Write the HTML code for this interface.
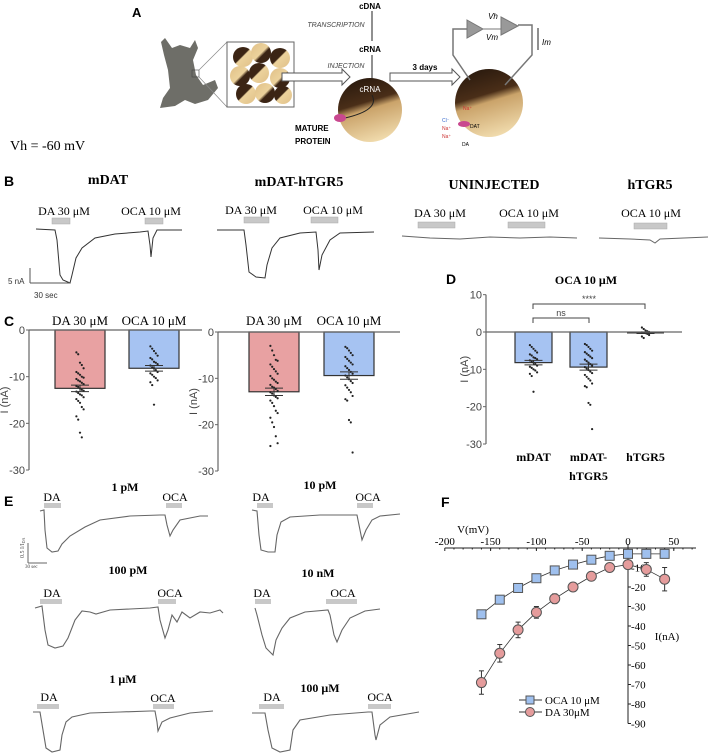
<!DOCTYPE html>
<html><head><meta charset="utf-8"><style>
html,body{margin:0;padding:0;background:#fff;}
svg{display:block;}
.sans{font-family:"Liberation Sans",sans-serif;}
.serif{font-family:"Liberation Serif",serif;}
</style></head><body>
<svg id="fig" width="708" height="756" viewBox="0 0 708 756" xmlns="http://www.w3.org/2000/svg">
<defs>
<linearGradient id="oo2" x1="0.3" y1="0" x2="0.6" y2="1"><stop offset="0" stop-color="#2a1a0e"/><stop offset="0.38" stop-color="#4a2e18"/><stop offset="0.5" stop-color="#caa36a"/><stop offset="1" stop-color="#f1dcae"/></linearGradient>
<linearGradient id="egg" x1="0" y1="0" x2="1" y2="1"><stop offset="0" stop-color="#3b2414"/><stop offset="0.45" stop-color="#3b2414"/><stop offset="0.5" stop-color="#ecd29c"/><stop offset="1" stop-color="#e0c088"/></linearGradient>
<linearGradient id="egg2" x1="1" y1="1" x2="0" y2="0"><stop offset="0" stop-color="#3b2414"/><stop offset="0.4" stop-color="#3b2414"/><stop offset="0.5" stop-color="#ecd29c"/><stop offset="1" stop-color="#e0c088"/></linearGradient>
</defs>
<!-- Panel A -->
<g>
<text x="132" y="17" class="sans" font-weight="bold" font-size="13">A</text>
<path d="M165,38 L172,48 L180,45 L190,48 L195,40 L198,48 L193,60 L196,75 L203,85 L215,80 L218,88 L208,100 L195,104 L185,100 L175,106 L160,108 L163,98 L170,88 L168,70 L164,55 L161,42 Z" fill="#6e6e68"/>
<rect x="192" y="70" width="7" height="7" fill="none" stroke="#444" stroke-width="0.6"/>
<line x1="199" y1="70" x2="227" y2="42" stroke="#888" stroke-width="0.7"/><line x1="199" y1="77" x2="227" y2="107" stroke="#888" stroke-width="0.7"/>
<rect x="227" y="42" width="67" height="65" fill="#fff" stroke="#666"/>
<g>
<circle cx="243" cy="57" r="10" fill="url(#egg)"/><circle cx="261" cy="53" r="10" fill="url(#egg2)"/><circle cx="280" cy="58" r="10" fill="url(#egg)"/><circle cx="240" cy="76" r="10" fill="url(#egg2)"/><circle cx="259" cy="73" r="10" fill="url(#egg)"/><circle cx="280" cy="78" r="10" fill="url(#egg2)"/><circle cx="246" cy="94" r="10" fill="url(#egg)"/><circle cx="265" cy="93" r="10" fill="url(#egg2)"/><circle cx="283" cy="95" r="9" fill="url(#egg)"/>
</g>
<path d="M282,73 L342,73 L342,69 L350,77 L342,85 L342,81 L282,81 Z" fill="#fff" stroke="#555"/>
<text x="370" y="9" text-anchor="middle" class="sans" font-weight="bold" font-size="8">cDNA</text>
<line x1="372" y1="11" x2="372" y2="41" stroke="#222"/>
<text x="336" y="27" text-anchor="middle" class="sans" font-style="italic" font-size="7" fill="#444">TRANSCRIPTION</text>
<text x="370" y="52" text-anchor="middle" class="sans" font-weight="bold" font-size="8">cRNA</text>
<text x="346" y="68" text-anchor="middle" class="sans" font-style="italic" font-size="7" fill="#444">INJECTION</text>
<line x1="372" y1="55" x2="372" y2="88" stroke="#222"/>
<circle cx="370" cy="110" r="32" fill="url(#oo2)"/>
<text x="370" y="92" text-anchor="middle" class="sans" font-size="8" fill="#fff">cRNA</text>
<path d="M372,95 Q380,110 345,118" fill="none" stroke="#222"/>
<ellipse cx="340" cy="118" rx="6" ry="4" fill="#c9488f"/>
<text x="295" y="131" class="sans" font-weight="bold" font-size="8">MATURE</text>
<text x="295" y="144" class="sans" font-weight="bold" font-size="8">PROTEIN</text>
<path d="M390,73 L452,73 L452,69 L460,77 L452,85 L452,81 L390,81 Z" fill="#fff" stroke="#555"/>
<text x="425" y="70" text-anchor="middle" class="sans" font-weight="bold" font-size="8">3 days</text>
<circle cx="489" cy="103" r="34" fill="url(#oo2)"/>
<path d="M467,20 L483,29 L467,38 Z" fill="#999" stroke="#777"/><path d="M501,17 L518,26 L501,35 Z" fill="#999" stroke="#777"/>
<line x1="483" y1="29" x2="501" y2="29" stroke="#777"/>
<polyline points="467,29 453,29 453,55 470,80" fill="none" stroke="#777" stroke-width="1.5"/>
<polyline points="518,25 532,25 532,55 505,85" fill="none" stroke="#777" stroke-width="1.5"/>
<text x="493" y="19" text-anchor="middle" class="sans" font-style="italic" font-size="8">Vh</text>
<text x="492" y="40" text-anchor="middle" class="sans" font-style="italic" font-size="8">Vm</text>
<line x1="538" y1="28" x2="538" y2="50" stroke="#222"/><text x="542" y="45" class="sans" font-style="italic" font-size="8">Im</text>
<text x="442" y="122" class="sans" font-size="5" fill="#36c">Cl⁻</text><text x="442" y="130" class="sans" font-size="5" fill="#c33">Na⁺</text><text x="442" y="138" class="sans" font-size="5" fill="#c33">Na⁺</text><text x="463" y="110" class="sans" font-size="5" fill="#c33">Na⁺</text><text x="470" y="128" class="sans" font-size="5">DAT</text><text x="462" y="146" class="sans" font-size="5">DA</text>
<ellipse cx="464" cy="124" rx="6" ry="3" fill="#c9488f"/>
<text x="10" y="150" class="serif" font-size="14">Vh = -60 mV</text>
</g>
<!-- Panel B -->
<g id="panelB" class="serif">
<text x="4" y="186" class="sans" font-weight="bold" font-size="14">B</text>
<text x="108" y="184" text-anchor="middle" font-weight="bold" font-size="14">mDAT</text>
<text x="299" y="186" text-anchor="middle" font-weight="bold" font-size="14">mDAT-hTGR5</text>
<text x="494" y="189" text-anchor="middle" font-weight="bold" font-size="14">UNINJECTED</text>
<text x="650" y="189" text-anchor="middle" font-weight="bold" font-size="14">hTGR5</text>
<g font-size="12">
<text x="64" y="215" text-anchor="middle">DA 30 μM</text><text x="151" y="215" text-anchor="middle">OCA 10 μM</text>
<text x="251" y="214" text-anchor="middle">DA 30 μM</text><text x="333" y="214" text-anchor="middle">OCA 10 μM</text>
<text x="440" y="217" text-anchor="middle">DA 30 μM</text><text x="529" y="217" text-anchor="middle">OCA 10 μM</text>
<text x="651" y="217" text-anchor="middle">OCA 10 μM</text>
</g>
<g fill="#c8c8c8" stroke="#aaa" stroke-width="0.5">
<rect x="52" y="218" width="18" height="6"/><rect x="145" y="218" width="18" height="6"/>
<rect x="244" y="217" width="25" height="6"/><rect x="311" y="217" width="27" height="6"/>
<rect x="418" y="222" width="37" height="6"/><rect x="508" y="222" width="37" height="6"/>
<rect x="634" y="223" width="33" height="6"/>
</g>
<g fill="none" stroke="#333" stroke-width="1">
<path d="M36,229 L55,230 L57,240 L60,275 L63,280 L70,283 L72,275 L76,258 L82,248 L95,238 L115,234 L140,232 L148,231 L150,245 L151,257 L153,238 L157,230 L182,230"/>
<path d="M217,230 L244,230 L246,245 L249,272 L256,277 L265,278 L267,265 L272,248 L280,238 L300,233 L316,232 L318,250 L319,270 L322,255 L330,240 L340,233 L374,232"/>
<path d="M402,236 L430,238 L460,239 L490,237 L520,238 L550,237 L577,238" stroke="#666"/>
<path d="M599,238 L630,239 L650,240 L655,243 L660,239 L708,237" stroke="#666"/>
</g>
<line x1="30" y1="268" x2="30" y2="283" stroke="#555"/><line x1="30" y1="283" x2="70" y2="283" stroke="#555"/>
<text x="8" y="284" class="sans" font-size="8" fill="#333">5 nA</text>
<text x="34" y="298" class="sans" font-size="8" fill="#333">30 sec</text>
</g>
<g id="panelC">
<text x="4" y="326" class="sans" font-weight="bold" font-size="14">C</text>
</g>
<g id="panelD">
<text x="446" y="284" class="sans" font-weight="bold" font-size="14">D</text>
<text x="586" y="284" text-anchor="middle" class="serif" font-weight="bold" font-size="12">OCA 10 μM</text>
</g>
<!-- Panel E -->
<g class="serif">
<text x="4" y="506" class="sans" font-weight="bold" font-size="14">E</text>
<g font-weight="bold" font-size="12">
<text x="125" y="491" text-anchor="middle">1 pM</text><text x="320" y="489" text-anchor="middle">10 pM</text>
<text x="128" y="574" text-anchor="middle">100 pM</text><text x="318" y="577" text-anchor="middle">10 nM</text>
<text x="123" y="683" text-anchor="middle">1 μM</text><text x="320" y="692" text-anchor="middle">100 μM</text>
</g>
<g font-size="12">
<text x="52" y="501" text-anchor="middle">DA</text><text x="175" y="501" text-anchor="middle">OCA</text>
<text x="261" y="501" text-anchor="middle">DA</text><text x="368" y="501" text-anchor="middle">OCA</text>
<text x="52" y="597" text-anchor="middle">DA</text><text x="170" y="597" text-anchor="middle">OCA</text>
<text x="262" y="597" text-anchor="middle">DA</text><text x="343" y="597" text-anchor="middle">OCA</text>
<text x="49" y="701" text-anchor="middle">DA</text><text x="163" y="702" text-anchor="middle">OCA</text>
<text x="272" y="701" text-anchor="middle">DA</text><text x="380" y="701" text-anchor="middle">OCA</text>
</g>
<g fill="#c8c8c8">
<rect x="44" y="503" width="17" height="5"/><rect x="166" y="503" width="16" height="5"/>
<rect x="257" y="503" width="16" height="5"/><rect x="357" y="503" width="16" height="5"/>
<rect x="40" y="599" width="22" height="5"/><rect x="158" y="599" width="18" height="5"/>
<rect x="255" y="599" width="16" height="5"/><rect x="326" y="599" width="31" height="5"/>
<rect x="37" y="704" width="22" height="5"/><rect x="153" y="704" width="21" height="5"/>
<rect x="259" y="704" width="25" height="5"/><rect x="368" y="704" width="23" height="5"/>
</g>
<g fill="none" stroke="#666" stroke-width="1.1">
<path d="M40,511 L44,510 L45,530 L47,548 L52,552 L58,551 L62,544 L70,536 L85,527 L100,520 L130,516 L160,515 L165,515 L167,525 L170,536 L173,530 L180,520 L200,516 L208,516"/>
<path d="M252,510 L257,511 L259,535 L261,550 L268,552 L275,552 L277,535 L281,522 L290,517 L320,515 L357,515 L359,525 L362,540 L366,530 L372,520 L380,516 L400,514"/>
<path d="M35,608 L42,606 L45,630 L48,645 L55,648 L63,646 L68,638 L75,620 L82,611 L90,612 L96,614 L110,610 L130,609 L150,608 L158,607 L160,620 L165,638 L168,630 L172,615 L177,622 L182,612 L190,618 L200,612 L210,613 L220,610 L223,613"/>
<path d="M255,608 L257,615 L262,635 L266,648 L273,655 L276,640 L282,628 L290,618 L305,612 L328,610 L330,615 L334,635 L337,642 L342,630 L350,618 L365,611 L380,609"/>
<path d="M33,712 L40,712 L43,730 L46,748 L52,752 L60,750 L62,735 L66,722 L72,717 L90,713 L120,712 L150,711 L155,711 L157,722 L158,731 L162,722 L170,718 L190,713 L213,711"/>
<path d="M252,713 L265,713 L268,730 L272,748 L280,752 L290,750 L293,730 L300,720 L330,715 L368,712 L372,712 L375,735 L376,740 L380,725 L390,717 L419,712"/>
</g>
<line x1="28" y1="543" x2="28" y2="563" stroke="#666"/><line x1="28" y1="563" x2="47" y2="563" stroke="#666"/>
<text x="25" y="568" font-size="5" fill="#444">30 sec</text>
<text transform="translate(24,558) rotate(-90)" font-size="6" fill="#444">0.5  I/I<tspan font-size="4" dy="1">DA</tspan></text>
</g>
<g id="panelF" class="serif">
<text x="441" y="507" class="sans" font-weight="bold" font-size="14">F</text>
</g>
<script>
const c1Categories = ["DA 30 μM", "OCA 10 μM"];
const c1Means = [-12.5, -8.2];
const c1Sems = [0.7, 0.6];
const c1DaDots = [-4.8,-5.2,-7,-7.5,-8.2,-9,-9.3,-9.6,-10,-10.2,-10.5,-10.8,-11,-11.3,-11.6,-12,-12.2,-12.5,-12.8,-13,-13.2,-13.5,-13.8,-14,-14.4,-14.8,-15.2,-15.6,-16.5,-17,-18.5,-19.2,-22,-23];
const c1OcaDots = [-3.5,-4,-4.5,-5,-5.5,-6,-6.3,-6.8,-7,-7.3,-7.6,-8,-8.2,-8.6,-9,-9.3,-9.6,-10,-10.3,-10.8,-11.2,-11.8,-16];
const c2Categories = ["DA 30 μM", "OCA 10 μM"];
const c2Means = [-12.9, -9.4];
const c2Sems = [0.8, 0.8];
const c2DaDots = [-3,-4,-5,-6,-6.2,-7,-7.5,-8,-8.5,-9,-9.5,-10,-10.3,-10.7,-11,-11.4,-11.8,-12,-12.3,-12.7,-13,-13.3,-13.7,-14,-14.3,-14.8,-15.3,-16,-17,-17.5,-18.5,-19.5,-20.5,-22.5,-24,-24.6];
const c2OcaDots = [-3.2,-3.5,-4,-4.5,-5,-5.4,-5.8,-6.2,-6.6,-7,-7.4,-7.8,-8.2,-8.6,-9,-9.4,-9.8,-10.2,-10.6,-11,-11.5,-12,-12.5,-13,-13.8,-14.5,-14.8,-19,-19.5,-26];
const dCategories = ["mDAT", "mDAT-\nhTGR5", "hTGR5"];
const dMeans = [-8.2, -9.4, -0.2];
const dSems = [0.6, 0.8, 0.2];
const dDots = [c1OcaDots, c2OcaDots, [1.2,0.8,0.4,0.2,0,-0.1,-0.2,-0.3,-0.5,-0.8,-1.2,-1.6]];
const cTicks = [0, -10, -20, -30];
const dTicks = [10, 0, -10, -20, -30];
const fVoltages = [-160,-140,-120,-100,-80,-60,-40,-20,0,20,40];
const fOca = [-34,-26.5,-20.5,-15.5,-11.5,-8.5,-6,-4,-3,-3,-3];
const fOcaErr = [1.5,2,1.5,1.5,1,1,1,1,1,1,2];
const fDa = [-69,-54,-42,-33,-26,-20,-14.5,-10,-8.5,-11,-16];
const fDaErr = [6,4.5,4,3,2.5,2,1,1,1,3.5,6];
const fXTicks = [-200,-150,-100,-50,0,50];
const fYTicks = [0,-10,-20,-30,-40,-50,-60,-70,-80,-90];

const NS = "http://www.w3.org/2000/svg";
function mk(parent, tag, attrs, text) {
  const e = document.createElementNS(NS, tag);
  for (const k in attrs) e.setAttribute(k, attrs[k]);
  if (text !== undefined) e.textContent = text;
  parent.appendChild(e);
  return e;
}
function barPanel(g, cfg) {
  const y = v => cfg.y0 - v * cfg.ppu;
  const top = y(cfg.ticks[0]), bot = y(cfg.ticks[cfg.ticks.length - 1]);
  const ax = mk(g, "line", {x1: cfg.ax, y1: top, x2: cfg.ax, y2: bot, stroke: "#666", "stroke-width": 1.2});
  
  
  cfg.ticks.forEach(t => {
    mk(g, "line", {x1: cfg.ax - 3, y1: y(t), x2: cfg.ax, y2: y(t), stroke: "#666"});
    const tl = mk(g, "text", {x: cfg.ax - 4, y: y(t) + 4, "text-anchor": "end", "font-size": 11, fill: "#444", "font-family": "Liberation Sans, sans-serif"}, String(t));
    
    
  });
  const yl = mk(g, "text", {transform: `translate(${cfg.ylx},${(top + bot) / 2}) rotate(-90)`, "text-anchor": "middle", "font-size": 11, fill: "#444", "font-family": "Liberation Sans, sans-serif"}, "I (nA)");
  
  
  cfg.means.forEach((m, i) => {
    const x0 = cfg.bx[i], w = cfg.bw;
    if (Math.abs(m) > 0.5) {
      const r = mk(g, "rect", {x: x0, y: y(0), width: w, height: y(m) - y(0), fill: cfg.colors[i], stroke: "#333", "stroke-width": 1.2});
      
      
    } else {
      mk(g, "line", {x1: x0, y1: y(m), x2: x0 + w, y2: y(m), stroke: "#333", "stroke-width": 1.5});
    }
    const cx = x0 + w / 2;
    cfg.dots[i].forEach((v, j) => {
      const d = mk(g, "circle", {cx: cx + ((j % 5) - 2) * 1.8, cy: y(v), r: 1.1, fill: "#222"});
      
      
    });
    const s = cfg.sems[i];
    mk(g, "line", {x1: cx, y1: y(m + s), x2: cx, y2: y(m - s), stroke: "#333"});
    mk(g, "line", {x1: cx - 9, y1: y(m + s), x2: cx + 9, y2: y(m + s), stroke: "#333"});
    mk(g, "line", {x1: cx - 9, y1: y(m - s), x2: cx + 9, y2: y(m - s), stroke: "#333"});
    if (cfg.labels) {
      cfg.labels[i].split("\n").forEach((ln, k) => {
        const t = mk(g, "text", {x: cx, y: cfg.labelY + k * 19, "text-anchor": "middle", "font-size": cfg.labelSize, "font-weight": cfg.labelBold ? "bold" : "normal", "font-family": "Liberation Serif, serif"}, ln);
        
        
      });
    }
  });
  const zl = mk(g, "line", {x1: cfg.ax, y1: y(0), x2: cfg.axEnd, y2: y(0), stroke: "#666", "stroke-width": 1.2});
  
  
  return y;
}
const red = "#e8a1a2", blue = "#a6c3f2";
const gC = document.getElementById("panelC");
barPanel(gC, {name: "c-left", ax: 29, axEnd: 202, y0: 330, ppu: 140 / 30, ticks: cTicks, ylx: 8, bx: [55, 129], bw: 50, means: c1Means, sems: c1Sems, dots: [c1DaDots, c1OcaDots], colors: [red, blue], labels: c1Categories, labelY: 325, labelSize: 13});
barPanel(gC, {name: "c-right", ax: 218, axEnd: 400, y0: 332, ppu: 139 / 30, ticks: cTicks, ylx: 197, bx: [249, 324], bw: 50, means: c2Means, sems: c2Sems, dots: [c2DaDots, c2OcaDots], colors: [red, blue], labels: c2Categories, labelY: 325, labelSize: 13});
const gD = document.getElementById("panelD");
barPanel(gD, {name: "d", ax: 486, axEnd: 682, y0: 332, ppu: 112 / 30, ticks: dTicks, ylx: 468, bx: [515, 570, 627], bw: 37, means: dMeans, sems: dSems, dots: dDots, colors: [blue, blue, blue], labels: dCategories, labelY: 461, labelSize: 12, labelBold: true});
function bracket(x1, x2, yy, label) {
  const p = mk(gD, "path", {d: `M${x1},${yy + 5} L${x1},${yy} L${x2},${yy} L${x2},${yy + 5}`, fill: "none", stroke: "#444"});
  
  
  const t = mk(gD, "text", {x: (x1 + x2) / 2, y: yy - 2, "text-anchor": "middle", "font-size": 9, fill: "#444", "font-family": "Liberation Sans, sans-serif"}, label);
  
  
}
bracket(533, 589, 318, "ns");
bracket(533, 645, 304, "****");

const gF = document.getElementById("panelF");
const fx = v => 628 + v * (229 / 250);
const fy = v => 548 - v * 1.95;
const xax = mk(gF, "line", {x1: fx(-200), y1: fy(0), x2: 696, y2: fy(0), stroke: "#222"});


const yax = mk(gF, "line", {x1: fx(0), y1: fy(0) - 4, x2: fx(0), y2: fy(-90), stroke: "#222"});


fXTicks.forEach(t => {
  mk(gF, "line", {x1: fx(t), y1: fy(0), x2: fx(t), y2: fy(0) + 3, stroke: "#222"});
  const tl = mk(gF, "text", {x: fx(t), y: fy(0) - 3, "text-anchor": "middle", "font-size": 11}, String(t));
  
  
});
for (let v = -190; v <= 70; v += 10) mk(gF, "line", {x1: fx(v), y1: fy(0), x2: fx(v), y2: fy(0) + 1.5, stroke: "#222"});
fYTicks.forEach(t => {
  mk(gF, "line", {x1: fx(0), y1: fy(t), x2: fx(0) + 3, y2: fy(t), stroke: "#222"});
  if (t !== 0) {
    const tl = mk(gF, "text", {x: fx(0) + 3, y: fy(t) + 4, "font-size": 11}, String(t));
    
    
  }
});
const xt = mk(gF, "text", {x: 473, y: 533, "text-anchor": "middle", "font-size": 11}, "V(mV)");


const yt = mk(gF, "text", {x: 667, y: 640, "text-anchor": "middle", "font-size": 11}, "I(nA)");


function series(vals, errs, kind, color, name) {
  const pts = fVoltages.map((v, i) => `${fx(v)},${fy(vals[i])}`).join(" ");
  const pl = mk(gF, "polyline", {points: pts, fill: "none", stroke: "#333", "stroke-width": 0.8});
  
  
  fVoltages.forEach((v, i) => {
    const x = fx(v), y1 = fy(vals[i] + errs[i]), y2 = fy(vals[i] - errs[i]);
    mk(gF, "line", {x1: x, y1: y1, x2: x, y2: y2, stroke: "#333"});
    mk(gF, "line", {x1: x - 2.5, y1: y1, x2: x + 2.5, y2: y1, stroke: "#333"});
    mk(gF, "line", {x1: x - 2.5, y1: y2, x2: x + 2.5, y2: y2, stroke: "#333"});
    let m;
    if (kind === "sq") m = mk(gF, "rect", {x: x - 4.5, y: fy(vals[i]) - 4.5, width: 9, height: 9, fill: color, stroke: "#555"});
    else m = mk(gF, "circle", {cx: x, cy: fy(vals[i]), r: 5, fill: color, stroke: "#555"});
    
    
  });
}
series(fOca, fOcaErr, "sq", "#9fc0ee", "oca-series");
series(fDa, fDaErr, "ci", "#e59c9c", "da-series");
mk(gF, "line", {x1: 519, y1: 700, x2: 542, y2: 700, stroke: "#333"});
mk(gF, "rect", {x: 526, y: 696, width: 8, height: 8, fill: "#9fc0ee", stroke: "#555"});
const l1 = mk(gF, "text", {x: 545, y: 704, "font-size": 11}, "OCA 10 μM");


mk(gF, "line", {x1: 519, y1: 712, x2: 542, y2: 712, stroke: "#333"});
mk(gF, "circle", {cx: 530, cy: 712, r: 4.5, fill: "#e59c9c", stroke: "#555"});
const l2 = mk(gF, "text", {x: 545, y: 716, "font-size": 11}, "DA 30μM");


</script>
</svg>
</body></html>
